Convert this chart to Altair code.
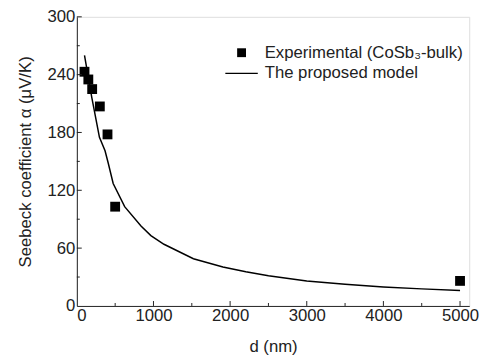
import altair as alt
import pandas as pd

# Experimental data (CoSb3 bulk)
exp_d = [100, 150, 200, 300, 400, 500, 5000]
exp_alpha = [243, 235, 225, 207, 178, 103, 26]

# Proposed model curve
model_d = [100, 196, 295, 368, 410, 474, 624, 837, 966, 1137, 1521, 1906, 2205, 2500, 3000, 3500, 4000, 4500, 5000]
model_alpha = [260, 216, 175, 161, 148, 127, 103, 83, 73, 64, 49, 40.5, 35.5, 31.3, 25.8, 22.4, 19.7, 17.7, 16]

x_major = [0, 1000, 2000, 3000, 4000, 5000]
x_minor = [500, 1500, 2500, 3500, 4500]
y_major = [0, 60, 120, 180, 240, 300]
y_minor = [30, 90, 150, 210, 270]

lab_exp = "Experimental (CoSb₃-bulk)"
lab_model = "The proposed model"

W, H = 399, 294
FONT = "Liberation Sans"
C = "#222"

exp_df = pd.DataFrame({"d": exp_d, "a": exp_alpha, "s": lab_exp})
mod_df = pd.DataFrame({"d": model_d, "a": model_alpha, "s": lab_model})

xs = alt.Scale(domain=[0, 5120], nice=False)
ys = alt.Scale(domain=[0, 300], nice=False)

xaxis = alt.Axis(values=x_major, format="d", ticks=False, labelPadding=2, title="d (nm)",
                 labelFontSize=17, titleFontSize=17, titleFontWeight="normal",
                 labelFont=FONT, titleFont=FONT, domainColor=C, labelColor=C,
                 titleColor=C, grid=False, titlePadding=15)
yaxis = alt.Axis(values=y_major, format="d", ticks=False, labelPadding=2,
                 title="Seebeck coefficient α (μV/K)",
                 labelFontSize=17, titleFontSize=17, titleFontWeight="normal",
                 labelFont=FONT, titleFont=FONT, domainColor=C, labelColor=C,
                 titleColor=C, grid=False, titlePadding=13)

legend_common = dict(title=None, orient="none", labelFont=FONT, labelFontSize=17,
                     labelColor=C, labelLimit=0, padding=0, symbolOpacity=1)

line = alt.Chart(mod_df).mark_line(strokeWidth=1.5).encode(
    x=alt.X("d:Q", scale=xs, axis=xaxis),
    y=alt.Y("a:Q", scale=ys, axis=yaxis),
    color=alt.Color("s:N", scale=alt.Scale(domain=[lab_model], range=["black"]),
                    legend=alt.Legend(legendX=150, legendY=40, symbolType="stroke",
                                      symbolSize=1089, symbolStrokeWidth=1.5,
                                      labelOffset=6, **legend_common)),
    order="d:Q",
)

pts = alt.Chart(exp_df).mark_point(filled=True, color="black", opacity=1, size=100).encode(
    x=alt.X("d:Q", scale=xs),
    y=alt.Y("a:Q", scale=ys),
    shape=alt.Shape("s:N",
        scale=alt.Scale(domain=[lab_exp], range=["square"]),
        legend=alt.Legend(legendX=159, legendY=28, symbolSize=81,
                          symbolFillColor="black", symbolStrokeWidth=0,
                          labelOffset=15, **legend_common)),
)

xticks_minor = alt.Chart(pd.DataFrame({"v": x_minor})).mark_rule(color=C).encode(
    x=alt.X("v:Q", scale=xs), y=alt.value(H), y2=alt.value(H - 3))
xticks_major = alt.Chart(pd.DataFrame({"v": x_major[1:]})).mark_rule(color=C).encode(
    x=alt.X("v:Q", scale=xs), y=alt.value(H), y2=alt.value(H - 5))
yticks_minor = alt.Chart(pd.DataFrame({"v": y_minor})).mark_rule(color=C).encode(
    y=alt.Y("v:Q", scale=ys), x=alt.value(0), x2=alt.value(3))
yticks_major = alt.Chart(pd.DataFrame({"v": y_major[1:]})).mark_rule(color=C).encode(
    y=alt.Y("v:Q", scale=ys), x=alt.value(0), x2=alt.value(5))

chart = alt.layer(line, pts, xticks_minor, xticks_major, yticks_minor, yticks_major).resolve_legend(
    color="independent", shape="independent"
).properties(
    width=W, height=H,
    autosize=alt.AutoSizeParams(type="none"),
    padding={"left": 70, "top": 6, "right": 14, "bottom": 52},
).configure_view(stroke=C, strokeWidth=1).configure(background="white")

chart.save("out.html", embed_options={"renderer": "svg", "actions": False})
